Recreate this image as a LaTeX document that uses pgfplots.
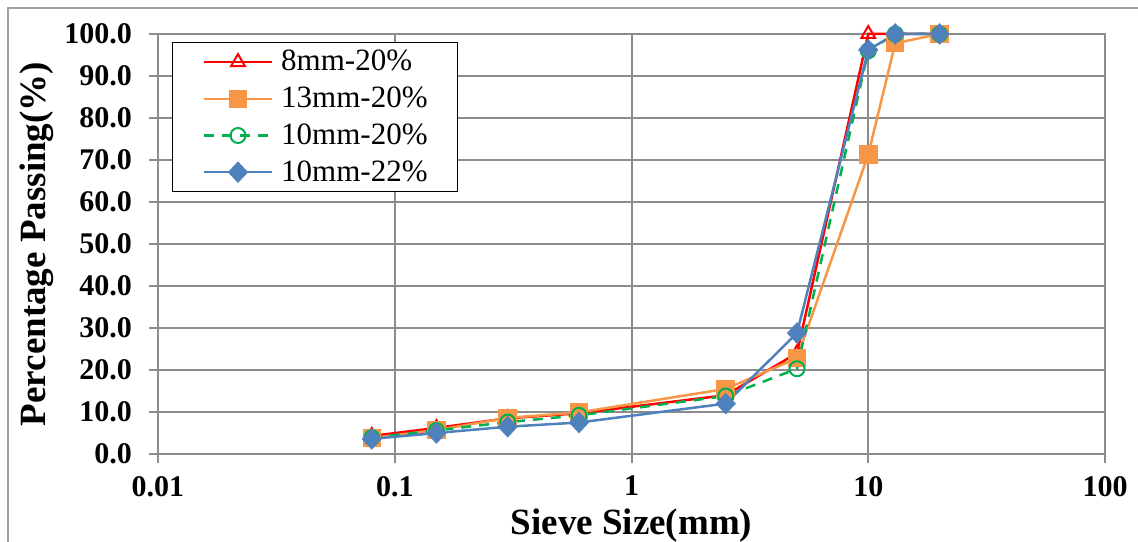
\documentclass[border=0pt]{standalone}
\usepackage{fontspec}
\setmainfont{Liberation Serif}
\usepackage{pgfplots}
\pgfplotsset{compat=1.18}
\definecolor{cred}{HTML}{FF0000}
\definecolor{corange}{HTML}{F79646}
\definecolor{cgreen}{HTML}{00B050}
\definecolor{cblue}{HTML}{4F81BD}
\definecolor{gridgray}{HTML}{8C8C8C}
\definecolor{framegray}{HTML}{A0A0A0}
\begin{document}
\begin{tikzpicture}
\useasboundingbox (0pt,0pt) rectangle (569pt,270.5pt);
\draw[framegray, line width=0.75pt] (4pt,-20pt) rectangle (600pt,266.5pt);
\begin{axis}[
  at={(79pt,43.5pt)}, anchor=south west,
  scale only axis, width=473.5pt, height=210pt,
  xmode=log, xmin=0.01, xmax=100, ymin=0, ymax=100,
  xtick={0.01,0.1,1,10,100}, xticklabels={0.01,0.1,1,10,100},
  ytick={0,10,20,30,40,50,60,70,80,90,100},
  yticklabels={0.0,10.0,20.0,30.0,40.0,50.0,60.0,70.0,80.0,90.0,100.0},
  xminorticks=false, yminorticks=false,
  grid=major, major grid style={gridgray, line width=1pt},
  axis line style={gridgray, line width=1pt},
  tick style={gridgray, line width=1pt}, tick align=outside, major tick length=4.5pt,
  tick pos=left,
  ticklabel style={font=\fontsize{15}{18}\selectfont\bfseries, text=black},
  yticklabel style={anchor=east, xshift=-5pt},
  xticklabel style={anchor=north, yshift=-3pt},
  xlabel={Sieve Size(mm)}, ylabel={Percentage Passing(\%)},
  label style={font=\fontsize{18.5}{22}\selectfont\bfseries},
  xlabel style={at={(axis description cs:0.5,-0.1905)}, anchor=base},
  ylabel style={at={(axis description cs:-0.1278,0.5)}, anchor=center},
  legend cell align=left,
  legend style={at={(0,1)}, anchor=north west, xshift=7pt, yshift=-4pt,
    draw=black, line width=0.75pt, fill=white,
    font=\fontsize{15.5}{18.5}\selectfont,
    inner xsep=15pt, inner ysep=0.5pt, row sep=0pt, column sep=4pt,
    nodes={inner sep=0pt, minimum height=18.35pt}},
  legend image code/.code={\draw[mark repeat=2, mark phase=2] plot coordinates {(0pt,0pt) (17pt,0pt) (34pt,0pt)};},
  clip=false,
]
\addplot[cred, line width=1.25pt, mark=triangle, mark size=4pt, mark options={solid, line width=1pt, fill=white}]
 coordinates {(0.08,4.3)(0.15,6.2)(0.3,8.5)(0.6,9.7)(2.5,14.0)(5,24.0)(10,100)(13,100)(20,100)};
\addlegendentry{8mm-20\%}
\addplot[corange, line width=1.25pt, mark=square*, mark size=4pt, mark options={solid}]
 coordinates {(0.08,3.8)(0.15,5.7)(0.3,8.6)(0.6,9.9)(2.5,15.5)(5,22.8)(10,71.3)(13,97.8)(20,100)};
\addlegendentry{13mm-20\%}
\addplot[cgreen, line width=1.25pt, dashed, dash pattern=on 5pt off 4pt, mark=o, mark size=3.75pt, mark options={solid, line width=1pt}]
 coordinates {(0.08,3.9)(0.15,5.6)(0.3,7.6)(0.6,9.2)(2.5,13.8)(5,20.3)(10,96.0)(13,100)(20,100)};
\addlegendentry{10mm-20\%}
\addplot[cblue, line width=1.25pt, mark=diamond*, mark size=4.5pt, mark options={solid, xscale=1.25}]
 coordinates {(0.08,3.6)(0.15,5.0)(0.3,6.5)(0.6,7.5)(2.5,12.0)(5,28.8)(10,96.2)(13,100)(20,100)};
\addlegendentry{10mm-22\%}
\end{axis}
\end{tikzpicture}
\end{document}
